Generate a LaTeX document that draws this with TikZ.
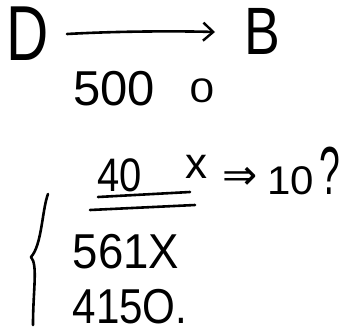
\documentclass[tikz,border=0pt]{standalone}
\usepackage{fontspec}
\setmainfont{Liberation Sans}
\newfontfamily\symfont{DejaVu Sans}
\usetikzlibrary{arrows.meta}
\tikzset{
  hand/.style={inner sep=0pt, text=black, anchor=center},
  ink/.style={line width=2.6pt, line cap=round, line join=round, black},
}
\newcommand{\fs}[1]{\fontsize{#1}{#1}\selectfont}
\begin{document}
\begin{tikzpicture}[x=1pt,y=-1pt]
\useasboundingbox (0,0) rectangle (342,335);
% top row
\node[hand, xscale=0.75] (D) at (28,34) {\fs{78}D};
\node[hand, xscale=0.8] (B) at (262,31) {\fs{67}B};
\coordinate (a0) at (67,34);
\coordinate (a1) at (215,32);
\draw[ink, -{Straight Barb[length=10pt,width=18pt,line width=2.4pt]}] (a0) .. controls (120,31) and (180,31) .. (a1);
\node[hand] (n500) at (114,89) {\fs{49}500};
\node[hand, xscale=1.3] (n0) at (202,91) {\fs{34}0};
% middle row
\node[hand, xscale=0.85] (n40) at (120,175) {\fs{47}40};
\node[hand] (x1) at (196,167) {\fs{44}x};
\node[hand] (imp) at (240,178) {\fs{42}\symfont ⇒};
\node[hand, xscale=1.05] (n10) at (291,181) {\fs{40}10};
\node[hand, xscale=0.55] (q) at (330,171) {\fs{68}?};
\coordinate (u1a) at (98,197); \coordinate (u1b) at (190,192);
\coordinate (u2a) at (90,210); \coordinate (u2b) at (195,205);
\draw[ink] (u1a) -- (u1b);
\draw[ink] (u2a) -- (u2b);
% brace
\coordinate (bt) at (48,194); \coordinate (bm) at (31,257); \coordinate (bb) at (33,325);
\draw[ink] (bt) .. controls (42,210) and (42,245) .. (bm)
           .. controls (38,265) and (33,290) .. (bb);
% lower rows
\node[hand, xscale=0.93] (n561) at (126,252) {\fs{49}561X};
\node[hand, xscale=0.86] (n415) at (130,307) {\fs{49}415O.};
\end{tikzpicture}
\end{document}
